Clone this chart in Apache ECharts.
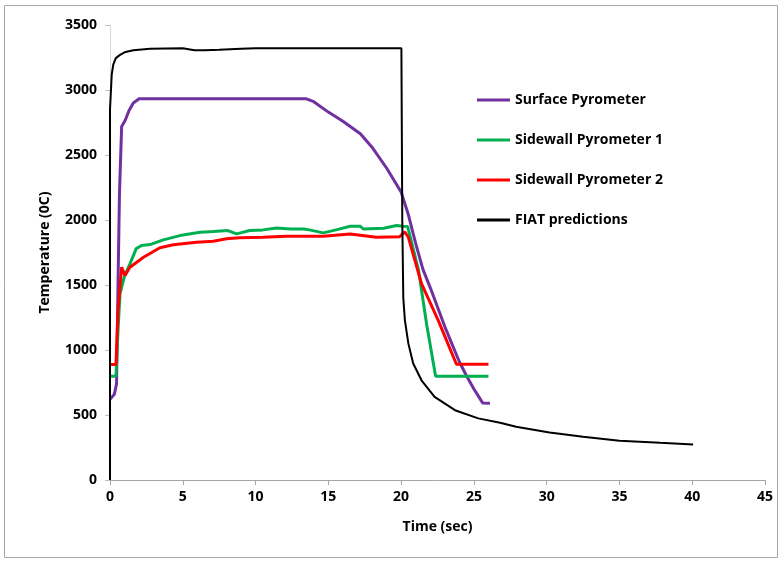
<!DOCTYPE html>
<html>
<head>
<meta charset="utf-8">
<script src="https://cdn.jsdelivr.net/npm/echarts@6/dist/echarts.min.js"></script>
<style>
  html, body { margin: 0; padding: 0; background: #fff; }
  #chart { width: 780px; height: 563px; }
</style>
</head>
<body>
<div id="chart"></div>
<script>
// values (time in sec, temperature in 0C)
const surfaceT = [0, 0.3, 0.45, 0.55, 0.65, 0.8, 1.03, 1.3, 1.6, 2.0, 5, 10, 13.5, 14, 15, 16, 17.2, 18, 19, 20, 20.5, 21, 21.5, 22, 23, 24, 24.5, 25, 25.6, 26.1]
const surfaceV = [620, 660, 740, 1500, 2200, 2720, 2763, 2840, 2900, 2932, 2932, 2932, 2932, 2910, 2830, 2760, 2663, 2560, 2400, 2215, 2040, 1820, 1620, 1480, 1180, 910, 800, 700, 593, 590]

const side1T = [0, 0.41, 0.55, 0.69, 1.0, 1.37, 1.8, 2.17, 2.75, 3.66, 4.8, 6.18, 7.1, 8.1, 8.7, 9.6, 10.5, 11.45, 12.4, 13.3, 13.7, 14.65, 15.6, 16.5, 17.2, 17.4, 18.8, 19.7, 20.1, 20.45, 21.2, 21.75, 22.37, 26]
const side1V = [798, 798, 1150, 1433, 1570, 1663, 1780, 1804, 1811, 1847, 1880, 1906, 1911, 1919, 1893, 1919, 1924, 1939, 1931, 1931, 1924, 1901, 1926, 1952, 1952, 1931, 1936, 1957, 1952, 1950, 1612, 1200, 798, 798]

const side2T = [0, 0.41, 0.55, 0.8, 1.03, 1.37, 2.3, 3.43, 4.35, 5.95, 7.1, 8.0, 8.9, 10.5, 12.1, 14.65, 16.5, 18.3, 19.9, 20.26, 20.5, 21.4, 22.55, 23.8, 26]
const side2V = [888, 888, 1300, 1637, 1573, 1637, 1714, 1786, 1809, 1829, 1837, 1855, 1863, 1867, 1875, 1875, 1893, 1867, 1872, 1908, 1867, 1510, 1228, 890, 890]

const fiatT = [0, 0, 0.12, 0.23, 0.4, 0.69, 1.0, 1.6, 2.75, 5, 5.8, 6.5, 7.5, 9, 10, 20.02, 20.08, 20.15, 20.26, 20.5, 20.83, 21.4, 22.3, 23.7, 25.3, 26.8, 27.9, 30.2, 32.5, 35, 37.8, 40.06]
const fiatV = [0, 2850, 3121, 3198, 3245, 3270, 3290, 3306, 3318, 3321, 3306, 3306, 3310, 3318, 3322, 3322, 2000, 1400, 1228, 1049, 896, 767, 640, 537, 474, 440, 409, 366, 332, 302, 286, 274]

const seriesNames = ['Surface Pyrometer', 'Sidewall Pyrometer 1', 'Sidewall Pyrometer 2', 'FIAT predictions']
const xTicks = [0, 5, 10, 15, 20, 25, 30, 35, 40, 45]
const yTicks = [0, 500, 1000, 1500, 2000, 2500, 3000, 3500]

const zip = (t, v) => t.map((x, i) => [x, v[i]])

const font = 'Open Sans'
const txt = { fontFamily: font, fontWeight: 'bold', fontSize: 14, color: '#000' }
const myEcharts = echarts.init(document.getElementById('chart'))

myEcharts.setOption({
  animation: false,
  backgroundColor: '#fff',
  graphic: [{
    type: 'rect',
    shape: { x: 4.5, y: 5.5, width: 773, height: 552 },
    style: { fill: 'none', stroke: '#a6a6a6', lineWidth: 1 },
    silent: true
  }],
  grid: { left: 110, right: 15, top: 25, bottom: 83 },
  legend: {
    orient: 'vertical',
    left: 472,
    top: 88,
    icon: 'rect',
    itemWidth: 33,
    itemHeight: 3,
    itemGap: 26,
    textStyle: txt,
    data: seriesNames
  },
  xAxis: {
    type: 'value',
    min: xTicks[0],
    max: xTicks[xTicks.length - 1],
    interval: 5,
    name: 'Time (sec)',
    nameLocation: 'middle',
    nameGap: 40,
    nameTextStyle: txt,
    axisLine: { lineStyle: { color: '#a6a6a6', width: 1 } },
    axisTick: { show: true, length: 5, lineStyle: { color: '#a6a6a6' } },
    axisLabel: Object.assign({ margin: 10 }, txt),
    splitLine: { show: false }
  },
  yAxis: {
    type: 'value',
    min: yTicks[0],
    max: yTicks[yTicks.length - 1],
    interval: 500,
    name: 'Temperature (0C)',
    nameLocation: 'middle',
    nameGap: 58,
    nameTextStyle: txt,
    axisLine: { show: true, lineStyle: { color: '#d9d9d9', width: 1 } },
    axisTick: { show: true, length: 5, lineStyle: { color: '#bfbfbf' } },
    axisLabel: Object.assign({ margin: 13, formatter: v => String(v) }, txt),
    splitLine: { show: false }
  },
  series: [
    { name: seriesNames[0], type: 'line', symbol: 'none', data: zip(surfaceT, surfaceV), lineStyle: { color: '#7030a0', width: 3 }, itemStyle: { color: '#7030a0' }, z: 3 },
    { name: seriesNames[1], type: 'line', symbol: 'none', data: zip(side1T, side1V), lineStyle: { color: '#00b050', width: 3 }, itemStyle: { color: '#00b050' }, z: 4 },
    { name: seriesNames[2], type: 'line', symbol: 'none', data: zip(side2T, side2V), lineStyle: { color: '#ff0000', width: 3 }, itemStyle: { color: '#ff0000' }, z: 5 },
    { name: seriesNames[3], type: 'line', symbol: 'none', data: zip(fiatT, fiatV), lineStyle: { color: '#000', width: 2 }, itemStyle: { color: '#000' }, z: 6 }
  ]
})
</script>
</body>
</html>
